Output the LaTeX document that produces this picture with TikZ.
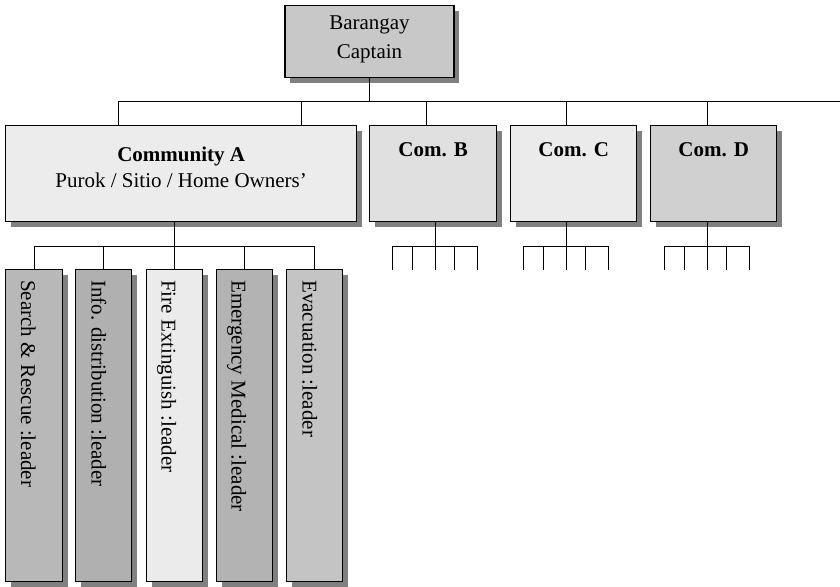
\documentclass[tikz,border=0pt]{standalone}
\usepackage{fontspec}
\setmainfont{Liberation Serif}
\usetikzlibrary{shadows}

% fills of the boxes
\definecolor{shadowgray}{HTML}{808080}
\definecolor{captainfill}{HTML}{C8C8C8}
\definecolor{comAfill}{HTML}{ECECEC}
\definecolor{comBfill}{HTML}{E0E0E0}
\definecolor{comCfill}{HTML}{EBEBEB}
\definecolor{comDfill}{HTML}{D0D0D0}
\definecolor{rescuefill}{HTML}{B8B8B8}
\definecolor{infofill}{HTML}{B0B0B0}
\definecolor{firefill}{HTML}{EBEBEB}
\definecolor{medicalfill}{HTML}{B3B3B3}
\definecolor{evacfill}{HTML}{C4C4C4}

\begin{document}
\begin{tikzpicture}[x=1pt,y=-1pt,
  every node/.style={font=\fontsize{21}{26}\selectfont},
  box/.style={draw=black, line width=1.3pt, inner sep=0pt, anchor=north west,
    drop shadow={shadow xshift=5pt, shadow yshift=-5pt, opacity=1, fill=shadowgray}},
  combox/.style={box, minimum height=96pt, text height=31pt, text depth=65pt,
    font=\fontsize{21}{26}\selectfont\bfseries},
  leaderbox/.style={box, minimum width=56pt, minimum height=312pt},
  leadertext/.style={rotate=-90, anchor=base west, inner sep=0pt},
  link/.style={line width=0.9pt},
]
\useasboundingbox (0,0) rectangle (840,586);

% top of the hierarchy
\node[box, fill=captainfill, anchor=north, minimum width=169pt, minimum height=72pt,
      text height=23.5pt, text depth=48.5pt] (captain) at (369.5,5)
  {\fontsize{21}{29}\selectfont\begin{tabular}[t]{@{}c@{}}Barangay\\Captain\end{tabular}};

% communities
\node[box, fill=comAfill, minimum width=351pt, minimum height=96pt,
      text height=36pt, text depth=60pt] (comA) at (5,125)
  {\fontsize{21}{26}\selectfont\begin{tabular}[t]{@{}c@{}}\textbf{Community A}\\Purok / Sitio / Home Owners'\end{tabular}};
\node[combox, fill=comBfill, minimum width=127pt] (comB) at (369,125) {Com. B};
\node[combox, fill=comCfill, minimum width=126pt] (comC) at (510,125) {Com. C};
\node[combox, fill=comDfill, minimum width=126pt] (comD) at (650,125) {Com. D};

% team leaders of community A
\node[leaderbox, fill=rescuefill, minimum width=57pt] (rescue) at (5,269) {};
\node[leaderbox, fill=infofill] (info) at (75,269) {};
\node[leaderbox, fill=firefill] (fire) at (146,269) {};
\node[leaderbox, fill=medicalfill] (medical) at (216,269) {};
\node[leaderbox, fill=evacfill] (evac) at (286,269) {};

\node[leadertext] (rescuetext) at ([xshift=-13pt,yshift=-11pt]rescue.north) {Search \& Rescue :leader};
\node[leadertext] (infotext) at ([xshift=-12pt,yshift=-11pt]info.north) {Info. distribution :leader};
\node[leadertext] (firetext) at ([xshift=-13pt,yshift=-11pt]fire.north) {Fire Extinguish :leader};
\node[leadertext] (medicaltext) at ([xshift=-13pt,yshift=-11pt]medical.north) {Emergency Medical :leader};
\node[leadertext] (evactext) at ([xshift=-12pt,yshift=-11pt]evac.north) {Evacuation :leader};

% main bus under the captain
\coordinate (busL) at (118,101);
\coordinate (busR) at (840,101);
\draw[link] (busL) -- (busR);
\draw[link] (captain.south) -- (captain.south |- busL);
\draw[link] (busL) -- (busL |- comA.north);
\draw[link] ([xshift=-56pt]comA.north east |- busL) -- ([xshift=-56pt]comA.north east);
\draw[link] ([xshift=-6.5pt]comB.north |- busL) -- ([xshift=-6.5pt]comB.north);
\draw[link] ([xshift=-7pt]comC.north |- busL) -- ([xshift=-7pt]comC.north);
\draw[link] ([xshift=-6pt]comD.north |- busL) -- ([xshift=-6pt]comD.north);

% bus from community A down to its leaders
\draw[link] ([xshift=-6.5pt]comA.south) -- ++(0,24) coordinate (busA);
\draw[link] (rescue.north |- busA) -- (evac.north |- busA);
\foreach \n in {rescue,info,fire,medical,evac}
  \draw[link] (\n.north |- busA) -- (\n.north);

% short fans under communities B, C and D
\draw[link] ([xshift=2.5pt]comB.south) -- ++(0,24) coordinate (fanB);
\draw[link] ([xshift=-7pt]comC.south) -- ++(0,24) coordinate (fanC);
\draw[link] ([xshift=-6pt]comD.south) -- ++(0,24) coordinate (fanD);
\foreach \f in {fanB,fanC,fanD}{
  \draw[link] ([xshift=-43pt]\f) -- ([xshift=42pt]\f);
  \foreach \dx in {-43,-23,0,19,42}
    \draw[link] ([xshift=\dx pt]\f) -- ++(0,24);
}
\end{tikzpicture}
\end{document}
